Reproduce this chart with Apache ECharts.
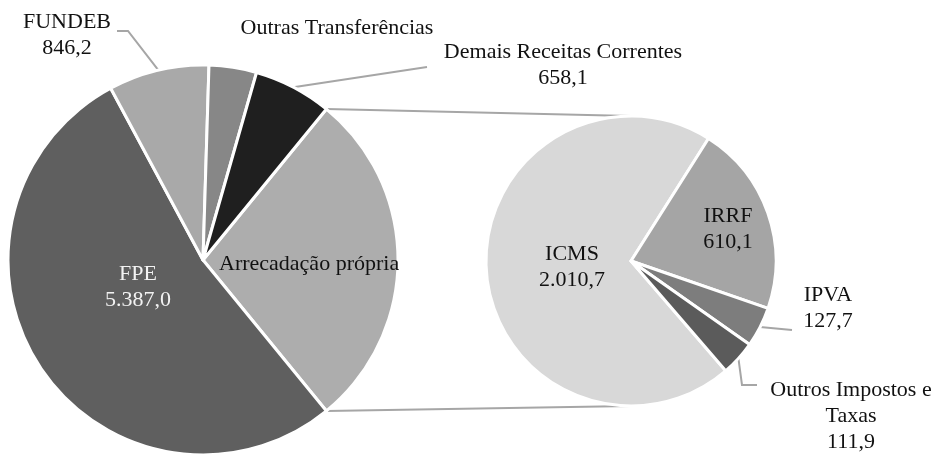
<!DOCTYPE html>
<html>
<head>
<meta charset="utf-8">
<script src="https://cdn.jsdelivr.net/npm/echarts@6/dist/echarts.min.js"></script>
<style>
  html, body { margin: 0; padding: 0; background: #fff; }
  #chart { width: 942px; height: 454px; }
</style>
</head>
<body>
<div id="chart"></div>
<script>
// main pie (first slice is the one expanded in the second pie)
const mainNames = ['Arrecadação própria', 'FPE', 'FUNDEB', 'Outras Transferências', 'Demais Receitas Correntes'];
const mainOther = [5387.0, 846.2, 400.0, 658.1];
const mainShowValue = [false, true, true, false, true];
const mainColors = ['#adadad', '#5f5f5f', '#a9a9a9', '#878787', '#1f1f1f'];

// detail pie
const subNames = ['ICMS', 'IRRF', 'IPVA', 'Outros Impostos e\nTaxas'];
const subValues = [2010.7, 610.1, 127.7, 111.9];
const subColors = ['#d8d8d8', '#a5a5a5', '#7d7d7d', '#5b5b5b'];

const ownRevenue = subValues.reduce((a, b) => a + b, 0);
const mainValues = [ownRevenue].concat(mainOther);
const total = mainValues.reduce((a, b) => a + b, 0);

// geometry
const C1 = [203, 260], R1 = 195;
const C2 = [631, 261], R2 = 145;
const subStart = 57.7 + subValues[0] / ownRevenue * 360;
const halfArc = ownRevenue / total * Math.PI;

function fmt(v) {
  const parts = v.toFixed(1).split('.');
  return parts[0].replace(/\B(?=(\d{3})+(?!\d))/g, '.') + ',' + parts[1];
}

// label placement (x, y, align) and leader line bends
const labelPos = {
  'Arrecadação própria': [219, 264, 'left'],
  'FPE': [138, 287, 'center'],
  'FUNDEB': [67, 35, 'center'],
  'Outras Transferências': [337, 28, 'center'],
  'Demais Receitas Correntes': [563, 65, 'center'],
  'ICMS': [572, 267, 'center'],
  'IRRF': [728, 229, 'center'],
  'IPVA': [828, 308, 'center'],
  'Outros Impostos e\nTaxas': [851, 416, 'center']
};
const leaderBends = {
  'FUNDEB': [[128, 31], [117, 31]],
  'Demais Receitas Correntes': [[427, 67], [427, 67]],
  'IPVA': [[792, 330], [792, 330]],
  'Outros Impostos e\nTaxas': [[742, 385], [757, 385]]
};
const insideNames = ['Arrecadação própria', 'FPE', 'ICMS', 'IRRF'];

const font = { fontFamily: 'Liberation Serif', fontSize: 22, lineHeight: 26, color: '#111' };

function makeItem(name, value, color, showValue) {
  const inside = insideNames.indexOf(name) >= 0;
  return {
    name: name,
    value: value,
    itemStyle: { color: color },
    label: Object.assign({
      show: true,
      position: inside ? 'inside' : 'outside',
      formatter: showValue ? name + '\n' + fmt(value) : name
    }, font, name === 'FPE' ? { color: '#f2f2f2' } : {}),
    labelLine: { show: !!leaderBends[name] }
  };
}

function layoutFn(params) {
  const name = params.seriesIndex === 0 ? mainNames[params.dataIndex] : subNames[params.dataIndex];
  const p = labelPos[name];
  const out = { x: p[0], y: p[1], align: p[2], verticalAlign: 'middle' };
  if (leaderBends[name] && params.labelLinePoints) {
    const a = params.labelLinePoints[0];
    out.labelLinePoints = [a].concat(leaderBends[name]);
  }
  return out;
}

const connectorStyle = { stroke: '#a6a6a6', lineWidth: 2 };

const chart = echarts.init(document.getElementById('chart'));
chart.setOption({
  animation: false,
  backgroundColor: '#fff',
  graphic: [
    {
      type: 'line', z: -1,
      shape: { x1: C1[0] + R1 * Math.cos(halfArc), y1: C1[1] - R1 * Math.sin(halfArc), x2: C2[0], y2: C2[1] - R2 },
      style: connectorStyle
    },
    {
      type: 'line', z: -1,
      shape: { x1: C1[0] + R1 * Math.cos(halfArc), y1: C1[1] + R1 * Math.sin(halfArc), x2: C2[0], y2: C2[1] + R2 },
      style: connectorStyle
    }
  ],
  series: [
    {
      type: 'pie',
      center: C1,
      radius: R1,
      startAngle: ownRevenue / total * 180,
      clockwise: true,
      avoidLabelOverlap: false,
      emphasis: { disabled: true },
      itemStyle: { borderColor: '#fff', borderWidth: 3 },
      labelLine: { lineStyle: { color: '#a6a6a6', width: 2 }, length: 10, length2: 10 },
      labelLayout: layoutFn,
      data: mainNames.map((n, i) => makeItem(n, mainValues[i], mainColors[i], mainShowValue[i]))
    },
    {
      type: 'pie',
      center: C2,
      radius: R2,
      startAngle: subStart,
      clockwise: true,
      avoidLabelOverlap: false,
      emphasis: { disabled: true },
      itemStyle: { borderColor: '#fff', borderWidth: 3 },
      labelLine: { lineStyle: { color: '#a6a6a6', width: 2 }, length: 10, length2: 10 },
      labelLayout: layoutFn,
      data: subNames.map((n, i) => makeItem(n, subValues[i], subColors[i], true))
    }
  ]
});
</script>
</body>
</html>
